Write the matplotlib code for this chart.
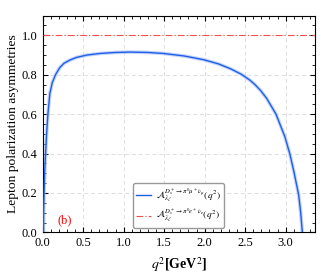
import matplotlib as mpl
mpl.use('Agg')
import matplotlib.pyplot as plt
from matplotlib.ticker import MultipleLocator

plt.rcParams['font.family'] = ['Liberation Serif', 'DejaVu Serif']
plt.rcParams['mathtext.fontset'] = 'stix'

# muon channel
q2_mu = [0.0112, 0.013, 0.02, 0.027, 0.037, 0.05, 0.066, 0.09, 0.12, 0.16,
         0.21, 0.264, 0.34, 0.42, 0.55, 0.71, 0.9, 1.08, 1.3, 1.49,
         1.75, 1.99, 2.17, 2.32, 2.45, 2.56, 2.62, 2.69, 2.765, 2.88, 2.99,
         3.05, 3.10, 3.13, 3.16, 3.185, 3.205]
a_mu = [0.0, 0.10, 0.22, 0.31, 0.40, 0.50, 0.60, 0.705, 0.76, 0.80,
        0.835, 0.858, 0.875, 0.888, 0.90, 0.908, 0.913, 0.915, 0.913, 0.908,
        0.895, 0.876, 0.855, 0.83, 0.803, 0.772, 0.75, 0.72, 0.68, 0.60, 0.485,
        0.40, 0.31, 0.25, 0.19, 0.10, 0.0]

# electron channel
q2_e = [0.0, 3.36]
a_e = [1.0, 1.0]

lab_mu = r'$\mathcal{A}_{\lambda_\ell}^{D_s^+\to\pi^0\mu^+\nu_\mu}(q^2)$'
lab_e = r'$\mathcal{A}_{\lambda_\ell}^{D_s^+\to\pi^0 e^+\nu_e}(q^2)$'

fs = 9
fig = plt.figure(figsize = (3.2, 2.74), dpi = 100)
ax = fig.add_axes([0.133, 0.152, 0.851, 0.791])

ax.plot(q2_mu, a_mu, color = "#9db8f5", lw = 2.6, alpha = 0.6, zorder = 2)
ax.plot(q2_mu, a_mu, color = "#1f5fe8", lw = 1.0, label = lab_mu, zorder = 3)
ax.plot(q2_e, a_e, color = "#f05050", lw = 0.8, ls = (0, (6, 2, 1, 2)), label = lab_e, zorder = 3)

ax.set_xlim(0, 3.36)
ax.set_ylim(0, 1.1)
ax.xaxis.set_major_locator(MultipleLocator(0.5))
ax.xaxis.set_minor_locator(MultipleLocator(0.1))
ax.yaxis.set_major_locator(MultipleLocator(0.2))
ax.yaxis.set_minor_locator(MultipleLocator(0.05))
ax.tick_params(which = "both", direction = "in", top = True, right = True, labelsize = fs)
ax.tick_params(which = "major", length = 3.5, width = 0.8)
ax.tick_params(which = "minor", length = 2, width = 0.6)
ax.grid(True, which = "major", color = "#dddddd", ls = (0, (4, 3)), lw = 0.7)

ax.set_xlabel(r'$q^2$[GeV$^2$]', fontsize = 10, fontweight = "bold")
ax.set_ylabel("Lepton polarization asymmetries", fontsize = 9.7, labelpad = 2)

ax.text(0.19, 0.045, "(b)", color = "red", fontsize = fs)

leg = ax.legend(loc = "lower center", bbox_to_anchor = (0.5, 0.0), fontsize = 6.8,
                handlelength = 1.5, labelspacing = 0.35, borderpad = 0.35,
                handletextpad = 0.6, framealpha = 1, edgecolor = "#999999", fancybox = True)

fig.savefig("out.png", dpi = 100)
plt.close()
